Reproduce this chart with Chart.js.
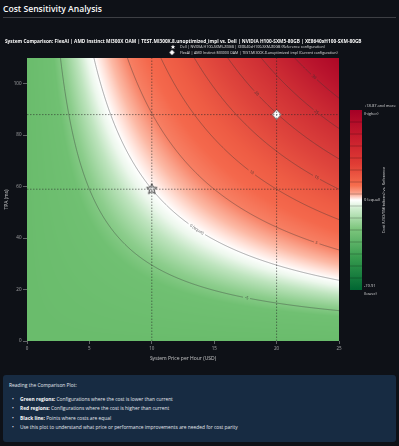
<!DOCTYPE html>
<html><head><meta charset="utf-8">
<script src="https://cdn.jsdelivr.net/npm/chart.js@4.4.1/dist/chart.umd.min.js"></script>
<style>
html,body{margin:0;padding:0;background:#0e1117;width:399px;height:446px;overflow:hidden;font-family:"Open Sans",sans-serif;color:#fafafa}
#title{position:absolute;left:3px;top:3px;font-weight:600;font-size:8px;line-height:13px;white-space:nowrap}
#rule{position:absolute;left:3px;top:17px;width:393px;height:1px;background:rgba(250,250,250,0.2)}
#wrap{position:absolute;left:0;top:22px;width:399px;height:346px}
#info{position:absolute;left:3px;top:375px;width:393px;height:67px;background:#172b42;border-radius:3px}
#info .l{position:absolute;left:6px;white-space:nowrap;line-height:8px;color:#e3e7ee}
#info .b{position:absolute;left:17px;white-space:nowrap;line-height:8px;color:#e3e7ee}
#info .dot{position:absolute;left:-8px;top:0}
#info b{color:#fafafa;font-weight:700}
</style></head>
<body>
<div id="title">Cost Sensitivity Analysis</div>
<div id="rule"></div>
<div id="wrap"><canvas id="cv" width="399" height="346"></canvas></div>
<div id="info">
  <div class="l" id="h1" style="top:6px">Reading the Comparison Plot:</div>
  <div class="b" style="top:20px"><span class="dot">•</span><b>Green regions:</b> Configurations where the cost is lower than current</div>
  <div class="b" style="top:29px"><span class="dot">•</span><b>Red regions:</b> Configurations where the cost is higher than current</div>
  <div class="b" style="top:39px"><span class="dot">•</span><b>Black line:</b> Points where costs are equal</div>
  <div class="b" id="b4" style="top:48px"><span class="dot">•</span>Use this plot to understand what price or performance improvements are needed for cost parity</div>
</div>
<script>
// ---------------- data ----------------
const subtitleText = "System Comparison: FlexAI | AMD Instinct MI300X OAM | TEST.MI300X.8.unoptimized_impl vs. Dell | NVIDIA H100-SXM5-80GB | XE8640xH100-SXM-80GB";
const seriesNames = [
  "Dell | NVIDIA H100-SXM5-80GB | XE8640xH100-SXM-80GB (Reference configuration)",
  "FlexAI | AMD Instinct MI300X OAM | TEST.MI300X.8.unoptimized_impl (Current configuration)"
];
const seriesPrice = [10, 20];      // System price per hour (USD)
const seriesTPA = [59, 88];        // TPA value
const costUnit = 10;               // cost at the reference configuration
const contourLevels = [-5, 0, 5, 10, 15, 20, 25, 30];
const xTickValues = [0, 5, 10, 15, 20, 25];
const yTickValues = [0, 20, 40, 60, 80, 100];
const xRange = [0, 25];
const yRange = [0, 110];
const colorbarTickText = ["+18.87 and more", "0 (equal)", "-19.91"];
const colorbarTickSub = ["(higher)", "", "(lower)"];

// ---------------- layout / style ----------------
const contourLabelPrice = [17.6, 13.6, 23.2, 18.0, 23.2, 18.4, 23.2, 23.0];
const FAM = '"Open Sans", sans-serif';

function fitEl(el, target){
  const fs = parseFloat(getComputedStyle(el).fontSize);
  const w = el.getBoundingClientRect().width;
  el.style.fontSize = (fs * target / w) + 'px';
}
const t = document.getElementById('title'); t.style.display='inline-block'; fitEl(t, 99);
// info box text sizes
const b4 = document.getElementById('b4');
b4.style.fontSize='10px';
{ const w = b4.getBoundingClientRect().width; const s = 10*218/w;
  document.querySelectorAll('#info .b').forEach(e=>e.style.fontSize=s+'px'); }
const h1 = document.getElementById('h1'); h1.style.fontSize='10px'; fitEl(h1, 68);

const heatStops = [
  [-10,106,188,108],[-6,112,192,114],[-4.5,140,205,140],[-2.5,190,228,190],[-1,236,247,236],
  [0,255,255,255],[1,255,228,220],[2.5,252,185,165],[5,247,128,100],[8,244,104,76],
  [12,238,92,68],[18,222,68,60],[25,205,45,52],[32,185,20,45],[37,172,6,38]
];
function heatColor(d){
  if(d<=heatStops[0][0]) return heatStops[0].slice(1);
  for(let i=1;i<heatStops.length;i++){
    if(d<=heatStops[i][0]){
      const a=heatStops[i-1], b=heatStops[i], f=(d-a[0])/(b[0]-a[0]);
      return [a[1]+(b[1]-a[1])*f, a[2]+(b[2]-a[2])*f, a[3]+(b[3]-a[3])*f];
    }
  }
  return heatStops[heatStops.length-1].slice(1);
}

function makeStar(r, fill, stroke, lw){
  const c=document.createElement('canvas'); const s=Math.ceil(r*2+3); c.width=s; c.height=s;
  const g=c.getContext('2d'); g.translate(s/2,s/2); g.beginPath();
  for(let k=0;k<10;k++){ const rr=k%2?r*0.45:r; const a=-Math.PI/2+k*Math.PI/5; g.lineTo(rr*Math.cos(a), rr*Math.sin(a)); }
  g.closePath(); g.fillStyle=fill; g.fill(); if(lw){g.lineWidth=lw; g.strokeStyle=stroke; g.stroke();}
  return c;
}
function makeDiamond(r, fill, stroke, lw){
  const c=document.createElement('canvas'); const s=Math.ceil(r*2+3); c.width=s; c.height=s;
  const g=c.getContext('2d'); g.translate(s/2,s/2); g.beginPath();
  g.moveTo(0,-r); g.lineTo(r*0.9,0); g.lineTo(0,r); g.lineTo(-r*0.9,0); g.closePath();
  g.fillStyle=fill; g.fill(); if(lw){g.lineWidth=lw; g.strokeStyle=stroke; g.stroke();}
  return c;
}
const starImg = makeStar(5.5,'#e6e6e6','#333',0.9);
const diamondImg = makeDiamond(5,'#ffffff','#555',0.8);
const starLeg = makeStar(2.4,'#ffffff',null,0);
const diamondLeg = makeDiamond(2.8,'#ffffff',null,0);

const heatPlugin = {
  id:'heat',
  beforeDatasetsDraw(chart){
    const {ctx, chartArea:a, scales:{x, y}} = chart;
    const L=Math.round(a.left), T=Math.round(a.top), W=Math.round(a.right)-L, H=Math.round(a.bottom)-T;
    const img=ctx.createImageData(W,H);
    const ref=seriesPrice[0]*seriesTPA[0];
    for(let j=0;j<H;j++){
      const tv=y.getValueForPixel(T+j+0.5);
      for(let i=0;i<W;i++){
        const pv=x.getValueForPixel(L+i+0.5);
        const d=costUnit*(pv*tv/ref-1);
        const c=heatColor(d); const k=(j*W+i)*4;
        img.data[k]=c[0]; img.data[k+1]=c[1]; img.data[k+2]=c[2]; img.data[k+3]=255;
      }
    }
    ctx.putImageData(img,L,T);
    ctx.save();
    ctx.beginPath(); ctx.rect(a.left,a.top,a.right-a.left,a.bottom-a.top); ctx.clip();
    ctx.font='4px '+FAM;
    contourLevels.forEach((lev,idx)=>{
      const K=ref*(1+lev/costUnit);
      const lp=contourLabelPrice[idx];
      const lx=x.getPixelForValue(lp), ly=y.getPixelForValue(K/lp);
      const text = lev===0 ? '0 (equal)' : String(lev);
      const tw=ctx.measureText(text).width; const gap=tw/2+1.5;
      ctx.beginPath(); let pen=false;
      for(let px=a.left; px<=a.right+0.5; px+=0.5){
        const pv=x.getValueForPixel(px); if(pv<=0){pen=false; continue;}
        const py=y.getPixelForValue(K/pv);
        if(py<a.top-40){pen=false; continue;}
        if(Math.hypot(px-lx,py-ly)<gap){pen=false; continue;}
        if(!pen){ctx.moveTo(px,py); pen=true;} else ctx.lineTo(px,py);
      }
      ctx.strokeStyle='rgba(55,55,55,0.5)'; ctx.lineWidth=0.8; ctx.stroke();
      const ly2=y.getPixelForValue(K/x.getValueForPixel(lx+1));
      const ang=Math.atan2(ly2-ly,1);
      ctx.save(); ctx.translate(lx,ly); ctx.rotate(ang);
      ctx.fillStyle='rgba(50,50,50,0.85)'; ctx.textAlign='center'; ctx.textBaseline='middle';
      ctx.fillText(text,0,0); ctx.restore();
    });
    ctx.restore();
  }
};

function fitFont(ctx, text, weight, target){
  ctx.font=weight+' 10px '+FAM; const w=ctx.measureText(text).width;
  ctx.font=weight+' '+(10*target/w)+'px '+FAM;
}

const overlayPlugin = {
  id:'overlay',
  afterDraw(chart){
    const ctx=chart.ctx;
    ctx.save();
    // subtitle
    ctx.fillStyle='#fafafa'; ctx.textBaseline='middle'; ctx.textAlign='left';
    fitFont(ctx, subtitleText, '700', 358); ctx.fillText(subtitleText, 5, 20);
    // legend
    ctx.drawImage(starLeg, 173-starLeg.width/2, 25-starLeg.height/2);
    ctx.drawImage(diamondLeg, 172-diamondLeg.width/2, 30.5-diamondLeg.height/2);
    ctx.fillStyle='rgba(250,250,250,0.85)';
    fitFont(ctx, seriesNames[0], '400', 145); ctx.fillText(seriesNames[0], 180, 25);
    fitFont(ctx, seriesNames[1], '400', 158); ctx.fillText(seriesNames[1], 180, 30.5);
    // colorbar
    const cx=350, cw=12, cy0=88, cy1=268;
    const g=ctx.createLinearGradient(0,cy0,0,cy1);
    g.addColorStop(0,'rgb(165,0,38)'); g.addColorStop(0.15,'rgb(198,28,45)');
    g.addColorStop(0.3,'rgb(224,60,52)'); g.addColorStop(0.42,'rgb(246,110,78)');
    g.addColorStop(0.47,'rgb(252,175,155)'); g.addColorStop(0.5,'rgb(255,255,255)');
    g.addColorStop(0.55,'rgb(205,236,205)'); g.addColorStop(0.66,'rgb(125,198,125)');
    g.addColorStop(0.82,'rgb(55,155,78)'); g.addColorStop(1,'rgb(0,102,50)');
    ctx.fillStyle=g; ctx.fillRect(cx,cy0,cw,cy1-cy0);
    ctx.strokeStyle='rgba(0,0,0,0.3)'; ctx.lineWidth=0.8;
    for(let k=1;k<15;k++){ const yy=cy0+k*12; ctx.beginPath(); ctx.moveTo(cx,yy); ctx.lineTo(cx+cw,yy); ctx.stroke(); }
    ctx.fillStyle='rgba(250,250,250,0.8)'; ctx.font='4px '+FAM; ctx.textAlign='left';
    const ys=[84,178,264];
    colorbarTickText.forEach((s,i)=>{
      ctx.fillText(s, 364, ys[i]);
      if(colorbarTickSub[i]) ctx.fillText(colorbarTickSub[i], 364, ys[i]+7.5);
    });
    ctx.save(); ctx.translate(384,178); ctx.rotate(-Math.PI/2); ctx.textAlign='center';
    ctx.fillText('Cost (USD/1M tokens) vs. Reference',0,0); ctx.restore();
    ctx.restore();
  }
};

const crossStyle = {type:'line', pointRadius:0, borderDash:[1.5,1.5], borderWidth:0.9, borderColor:'rgba(40,40,40,0.6)', fill:false};
const tickColor='rgba(250,250,250,0.6)';
new Chart(document.getElementById('cv'), {
  type:'scatter',
  data:{datasets:[
    {...crossStyle, data:[{x:seriesPrice[0],y:yRange[0]},{x:seriesPrice[0],y:yRange[1]}]},
    {...crossStyle, data:[{x:seriesPrice[1],y:yRange[0]},{x:seriesPrice[1],y:yRange[1]}]},
    {...crossStyle, data:[{x:xRange[0],y:seriesTPA[0]},{x:xRange[1],y:seriesTPA[0]}]},
    {...crossStyle, data:[{x:xRange[0],y:seriesTPA[1]},{x:xRange[1],y:seriesTPA[1]}]},
    {label:seriesNames[0], data:[{x:seriesPrice[0],y:seriesTPA[0]}], pointStyle:starImg, pointRadius:6},
    {label:seriesNames[1], data:[{x:seriesPrice[1],y:seriesTPA[1]}], pointStyle:diamondImg, pointRadius:6}
  ]},
  options:{
    responsive:false, animation:false, devicePixelRatio:1,
    layout:{padding:{top:36,right:60,left:0,bottom:0}},
    plugins:{legend:{display:false}, tooltip:{enabled:false}, title:{display:false}},
    scales:{
      x:{type:'linear', min:xRange[0], max:xRange[1],
        afterBuildTicks(s){ s.ticks = xTickValues.map(v=>({value:v})); },
        afterFit(s){ s.height=27; },
        ticks:{color:tickColor, font:{size:4.5, family:FAM}, padding:2, maxRotation:0},
        grid:{drawOnChartArea:false, tickLength:3, color:'rgba(200,200,200,0.45)'},
        border:{display:false},
        title:{display:true, text:'System Price per Hour (USD)', color:'rgba(250,250,250,0.75)', font:{size:5, family:FAM}, padding:{top:0,bottom:6}}
      },
      y:{type:'linear', min:yRange[0], max:yRange[1],
        afterBuildTicks(s){ s.ticks = yTickValues.map(v=>({value:v})); },
        afterFit(s){ s.width=27; },
        ticks:{color:tickColor, font:{size:4.5, family:FAM}, padding:1.5},
        grid:{drawOnChartArea:false, tickLength:4, color:'rgba(200,200,200,0.45)'},
        border:{display:false},
        title:{display:true, text:'TPA (ms)', color:'rgba(250,250,250,0.75)', font:{size:5, family:FAM}, padding:{top:4,bottom:0}}
      }
    }
  },
  plugins:[heatPlugin, overlayPlugin]
});
</script>
</body></html>
